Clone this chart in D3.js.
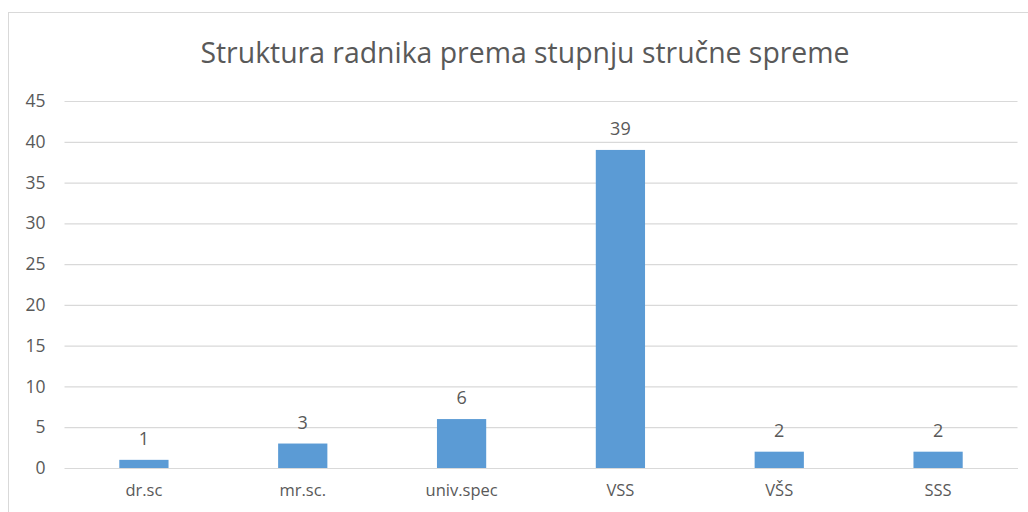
<!DOCTYPE html>
<html><head><meta charset="utf-8">
<script src="https://cdn.jsdelivr.net/npm/d3@7/dist/d3.min.js"></script>
<style>body{margin:0;background:#fff;} text{font-family:"Open Sans","Noto Sans",sans-serif;fill:#595959;}</style>
</head><body><svg id="c" width="1028" height="512"></svg>
<script>
const title = "Struktura radnika prema stupnju stručne spreme";
const categories = ["dr.sc","mr.sc.","univ.spec","VSS","VŠS","SSS"];
const values = [1,3,6,39,2,2];
const yTicks = [0,5,10,15,20,25,30,35,40,45];

(function(){
const svg = d3.select("#c");
svg.append("rect").attr("x",8.5).attr("y",12.5).attr("width",1030).attr("height",520)
  .attr("fill","#fff").attr("stroke","#d9d9d9").attr("stroke-width",1);

const pl=64.5, pr=1017.5, pt=101, pb=468;
const x = d3.scaleBand().domain(categories).range([pl,pr]).paddingInner(0.69).paddingOuter(0.345);
const y = d3.scaleLinear().domain([0,45]).range([pb,pt]);

svg.append("text").attr("x",525).attr("y",63).attr("text-anchor","middle")
  .style("font-size","28.4px").text(title);

const gy = svg.append("g").attr("transform",`translate(${pl},0)`)
  .call(d3.axisLeft(y).tickValues(yTicks).tickSize(-(pr-pl)).tickPadding(19));
gy.select(".domain").remove();
gy.selectAll(".tick line").attr("stroke","#d9d9d9").attr("stroke-width",1.2);
gy.selectAll(".tick text").style("font-size","17.5px").attr("fill","#595959").style("font-family","'Open Sans',sans-serif");

const gx = svg.append("g").attr("transform",`translate(0,${pb})`)
  .call(d3.axisBottom(x).tickSize(0).tickPadding(16));
gx.select(".domain").attr("stroke","#d9d9d9").attr("stroke-width",1.2);
gx.selectAll(".tick text").style("font-size","16.5px").attr("fill","#595959").style("font-family","'Open Sans',sans-serif");

svg.selectAll("rect.bar").data(values).join("rect").attr("class","bar")
  .attr("x",(d,i)=>x(categories[i])).attr("width",x.bandwidth())
  .attr("y",d=>y(d)).attr("height",d=>pb-y(d)).attr("fill","#5b9bd5");

svg.selectAll("text.lbl").data(values).join("text").attr("class","lbl")
  .attr("x",(d,i)=>x(categories[i])+x.bandwidth()/2).attr("y",d=>y(d)-15)
  .attr("text-anchor","middle").style("font-size","18px").text(d=>d);
})();
</script></body></html>
